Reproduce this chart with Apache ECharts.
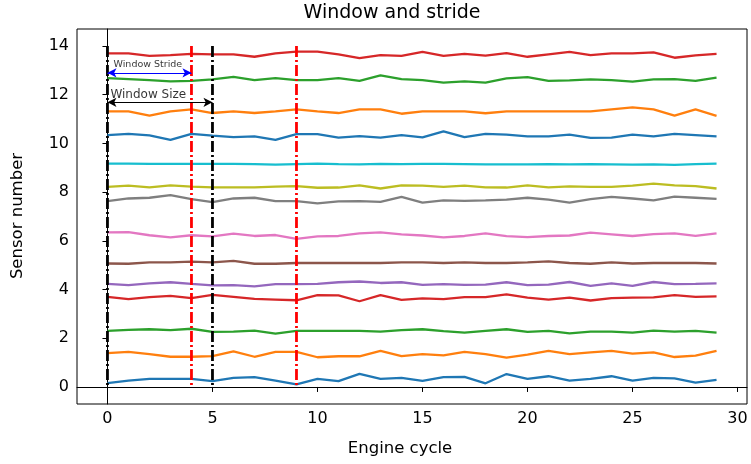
<!DOCTYPE html>
<html><head><meta charset="utf-8">
<script src="https://cdn.jsdelivr.net/npm/echarts@6/dist/echarts.min.js"></script>
<style>html,body{margin:0;padding:0;background:#fff}#c{width:751px;height:464px}</style>
</head><body><div id="c"></div>
<script>
const cycles = Array.from({length:30},(_,i)=>i);
const s0 = [0.16,0.26,0.33,0.33,0.33,0.24,0.37,0.40,0.26,0.11,0.33,0.24,0.54,0.33,0.37,0.25,0.40,0.41,0.15,0.53,0.33,0.44,0.26,0.33,0.44,0.26,0.37,0.35,0.18,0.29];
const s1 = [1.39,1.44,1.35,1.24,1.24,1.27,1.46,1.24,1.44,1.44,1.22,1.26,1.26,1.48,1.27,1.35,1.30,1.44,1.35,1.20,1.33,1.48,1.35,1.42,1.48,1.37,1.42,1.23,1.29,1.48];
const s2 = [2.30,2.34,2.37,2.33,2.39,2.26,2.27,2.31,2.19,2.30,2.30,2.30,2.30,2.27,2.33,2.37,2.29,2.23,2.30,2.37,2.26,2.30,2.20,2.27,2.27,2.23,2.31,2.27,2.30,2.23];
const s3 = [3.70,3.61,3.69,3.74,3.65,3.78,3.70,3.62,3.59,3.56,3.77,3.76,3.52,3.77,3.58,3.64,3.61,3.69,3.69,3.80,3.67,3.59,3.67,3.55,3.65,3.67,3.68,3.77,3.70,3.72];
const s4 = [4.23,4.18,4.25,4.30,4.23,4.17,4.18,4.13,4.22,4.22,4.23,4.30,4.33,4.27,4.30,4.19,4.22,4.19,4.20,4.30,4.18,4.20,4.31,4.15,4.25,4.15,4.31,4.22,4.23,4.25];
const s5 = [5.07,5.06,5.12,5.12,5.15,5.12,5.18,5.06,5.06,5.09,5.09,5.09,5.09,5.09,5.12,5.12,5.09,5.12,5.09,5.09,5.12,5.16,5.09,5.06,5.12,5.07,5.09,5.09,5.09,5.07];
const s6 = [6.35,6.36,6.23,6.14,6.23,6.18,6.30,6.20,6.24,6.08,6.18,6.20,6.31,6.35,6.27,6.22,6.14,6.20,6.31,6.19,6.15,6.20,6.22,6.34,6.27,6.20,6.28,6.31,6.20,6.31];
const s7 = [7.63,7.74,7.77,7.88,7.71,7.59,7.74,7.77,7.63,7.63,7.54,7.62,7.63,7.60,7.81,7.57,7.66,7.64,7.66,7.69,7.77,7.69,7.57,7.71,7.81,7.74,7.66,7.82,7.77,7.72];
const s8 = [8.22,8.27,8.20,8.28,8.23,8.20,8.20,8.20,8.23,8.25,8.18,8.19,8.28,8.15,8.28,8.27,8.22,8.27,8.20,8.19,8.28,8.20,8.24,8.22,8.22,8.27,8.35,8.28,8.25,8.15];
const s9 = [9.17,9.17,9.16,9.16,9.16,9.16,9.16,9.15,9.13,9.15,9.17,9.15,9.14,9.16,9.15,9.16,9.16,9.15,9.14,9.14,9.14,9.15,9.14,9.15,9.14,9.13,9.14,9.12,9.15,9.17];
const s10 = [10.34,10.39,10.33,10.15,10.39,10.32,10.26,10.29,10.15,10.38,10.38,10.24,10.30,10.24,10.34,10.25,10.50,10.26,10.39,10.36,10.29,10.29,10.36,10.23,10.24,10.36,10.29,10.39,10.34,10.29];
const s11 = [11.32,11.32,11.14,11.32,11.40,11.25,11.32,11.25,11.32,11.40,11.32,11.25,11.40,11.40,11.22,11.32,11.32,11.32,11.24,11.32,11.32,11.32,11.32,11.32,11.40,11.48,11.40,11.14,11.40,11.13];
const s12 = [12.68,12.64,12.60,12.55,12.57,12.63,12.73,12.60,12.68,12.60,12.60,12.68,12.57,12.80,12.64,12.60,12.50,12.55,12.50,12.67,12.72,12.57,12.59,12.63,12.60,12.54,12.63,12.64,12.57,12.70];
const s13 = [13.70,13.70,13.60,13.63,13.68,13.66,13.66,13.56,13.70,13.77,13.77,13.66,13.50,13.63,13.60,13.76,13.60,13.68,13.61,13.71,13.56,13.66,13.76,13.63,13.70,13.70,13.74,13.52,13.62,13.68];
const sensors = [s0,s1,s2,s3,s4,s5,s6,s7,s8,s9,s10,s11,s12,s13];
const xTicks = [0,5,10,15,20,25,30];
const yTicks = [0,2,4,6,8,10,12,14];
const windowStarts = [0,5];   // black
const strideStarts = [4,9];   // red
const vSpan = [0,14];
const strideArrow = {from:0,to:4,y:12.9,text:'Window Stride',tx:0.29,ty:13.25};
const sizeArrow = {from:0,to:5,y:11.69,text:'Window Size',tx:0.14,ty:11.99};

const palette = ['#1f77b4','#ff7f0e','#2ca02c','#d62728','#9467bd','#8c564b','#e377c2','#7f7f7f','#bcbd22','#17becf'];
const FONT = 'DejaVu Sans';

const series = [];
sensors.forEach((arr,k)=>{
  series.push({type:'line',data:cycles.map((c,i)=>[c,arr[i]]),showSymbol:false,symbol:'none',
    lineStyle:{color:palette[k%10],width:2.3},itemStyle:{color:palette[k%10]},animation:false,z:2});
});
function vline(x,color){
  series.push({type:'line',data:[[x,vSpan[1]],[x,vSpan[0]]],symbol:'none',animation:false,z:3,
    lineStyle:{color:color,width:2.8,type:[11,3,2,3]}});
}
windowStarts.forEach(x=>vline(x,'#000000'));
strideStarts.forEach(x=>vline(x,'#ff0000'));
function arrow(a,color,fs){
  series.push({type:'scatter',data:[[a.tx,a.ty]],symbolSize:0,animation:false,z:4,
    label:{show:true,position:'right',distance:0,formatter:a.text,color:'#000',fontFamily:FONT,fontSize:fs},
    markLine:{silent:true,animation:false,symbol:['arrow','arrow'],symbolSize:[7,9],
      lineStyle:{color:color,width:1.2,type:'solid'},label:{show:false},
      data:[[{coord:[a.from,a.y]},{coord:[a.to,a.y]}]]}});
}
arrow(strideArrow,'#0000ff',9.5);
arrow(sizeArrow,'#000000',12);

const chart = echarts.init(document.getElementById('c'),null,{renderer:'canvas'});
chart.setOption({
  animation:false,
  backgroundColor:'#fff',
  grid:{left:77,right:4,top:29,bottom:60,show:true,borderColor:'#000',borderWidth:1,backgroundColor:'transparent'},
  xAxis:{type:'value',min:-1.45,max:30.45,
    axisLine:{show:true,lineStyle:{color:'#000',width:1}},
    axisTick:{show:true,customValues:xTicks,length:5,lineStyle:{color:'#000'}},
    axisLabel:{show:true,customValues:xTicks,color:'#000',fontFamily:FONT,fontSize:16,margin:7},
    splitLine:{show:false}},
  yAxis:{type:'value',min:-0.7,max:14.7,
    axisLine:{show:true,lineStyle:{color:'#000',width:1}},
    axisTick:{show:true,customValues:yTicks,length:5,lineStyle:{color:'#000'}},
    axisLabel:{show:true,customValues:yTicks,color:'#000',fontFamily:FONT,fontSize:16,margin:8},
    splitLine:{show:false}},
  graphic:[
    {type:'text',x:392,y:13,style:{text:'Window and stride',fontFamily:FONT,fontSize:19,fill:'#000',align:'center',verticalAlign:'middle'}},
    {type:'text',x:400,y:449,style:{text:'Engine cycle',fontFamily:FONT,fontSize:16.5,fill:'#000',align:'center',verticalAlign:'middle'}},
    {type:'text',x:18,y:216,rotation:Math.PI/2,style:{text:'Sensor number',fontFamily:FONT,fontSize:16.5,fill:'#000',align:'center',verticalAlign:'middle'}}
  ],
  series:series
});
</script></body></html>
